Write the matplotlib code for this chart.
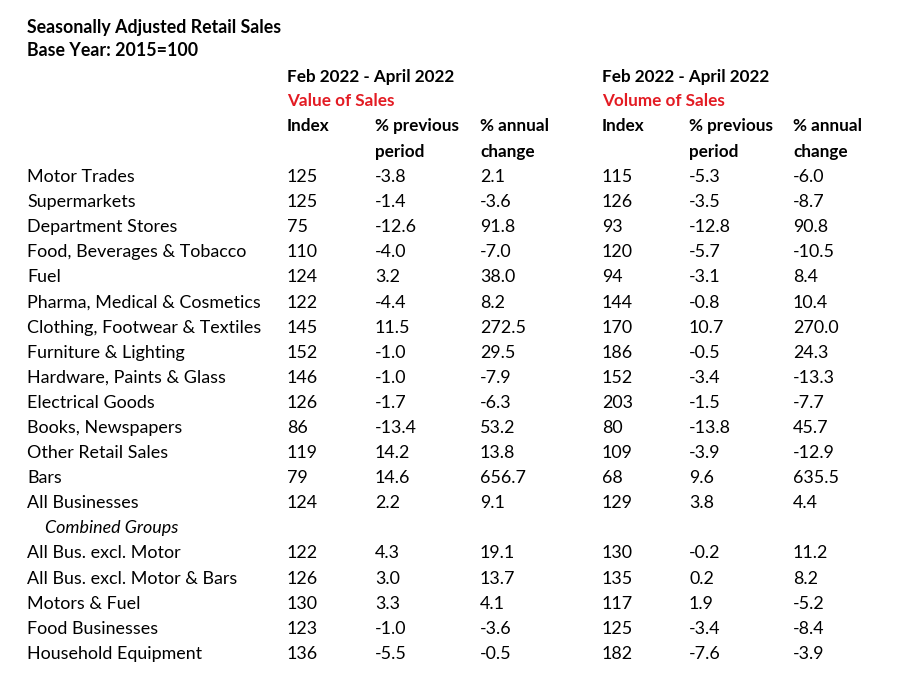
import matplotlib.pyplot as plt

# table data
categories = ["Motor Trades", "Supermarkets", "Department Stores", "Food, Beverages & Tobacco",
              "Fuel", "Pharma, Medical & Cosmetics", "Clothing, Footwear & Textiles",
              "Furniture & Lighting", "Hardware, Paints & Glass", "Electrical Goods",
              "Books, Newspapers", "Other Retail Sales", "Bars", "All Businesses"]
combined = ["All Bus. excl. Motor", "All Bus. excl. Motor & Bars", "Motors & Fuel",
            "Food Businesses", "Household Equipment"]

value_index = [125, 125, 75, 110, 124, 122, 145, 152, 146, 126, 86, 119, 79, 124,
               122, 126, 130, 123, 136]
value_prev = [-3.8, -1.4, -12.6, -4.0, 3.2, -4.4, 11.5, -1.0, -1.0, -1.7, -13.4, 14.2, 14.6, 2.2,
              4.3, 3.0, 3.3, -1.0, -5.5]
value_annual = [2.1, -3.6, 91.8, -7.0, 38.0, 8.2, 272.5, 29.5, -7.9, -6.3, 53.2, 13.8, 656.7, 9.1,
                19.1, 13.7, 4.1, -3.6, -0.5]
volume_index = [115, 126, 93, 120, 94, 144, 170, 186, 152, 203, 80, 109, 68, 129,
                130, 135, 117, 125, 182]
volume_prev = [-5.3, -3.5, -12.8, -5.7, -3.1, -0.8, 10.7, -0.5, -3.4, -1.5, -13.8, -3.9, 9.6, 3.8,
               -0.2, 0.2, 1.9, -3.4, -7.6]
volume_annual = [-6.0, -8.7, 90.8, -10.5, 8.4, 10.4, 270.0, 24.3, -13.3, -7.7, 45.7, -12.9, 635.5, 4.4,
                 11.2, 8.2, -5.2, -8.4, -3.9]

W, H = 900, 693
fig = plt.figure(figsize=(9, 6.93), dpi=100)
fig.patch.set_facecolor("white")

body = ["Lato", "DejaVu Sans"]
head = ["Lato", "DejaVu Sans"]
red = "#e31b23"
hs = 12.3  # header size


def put(x, y, s, **kw):
    # x, y in pixels from top left
    kw.setdefault("family", body)
    kw.setdefault("fontsize", 12.9)
    fig.text(x / W, 1 - y / H, s, va="center", ha="left", **kw)


put(27, 27, "Seasonally Adjusted Retail Sales", family=head, fontsize=12.8, weight="bold")
put(27, 50, "Base Year: 2015=100", family=head, fontsize=12.8, weight="bold")

col_x = [287, 375, 480, 602, 689, 793]
for gx, sub in [(287, "Value of Sales"), (602, "Volume of Sales")]:
    put(gx, 77, "Feb 2022 - April 2022", family=head, fontsize=hs, weight="bold")
    put(gx, 101, sub, family=head, fontsize=hs, weight="bold", color=red)
for k in (0, 3):
    put(col_x[k], 126, "Index", family=head, fontsize=hs, weight="bold")
    put(col_x[k + 1], 126, "% previous", family=head, fontsize=hs, weight="bold")
    put(col_x[k + 1], 152, "period", family=head, fontsize=hs, weight="bold")
    put(col_x[k + 2], 126, "% annual", family=head, fontsize=hs, weight="bold")
    put(col_x[k + 2], 152, "change", family=head, fontsize=hs, weight="bold")

labels = categories + [None] + combined
y0, dy = 177, 25.1
i = 0
for r, lab in enumerate(labels):
    y = y0 + r * dy
    if lab is None:
        put(45, y, "Combined Groups", style="italic")
        continue
    put(27, y, lab)
    cols = [value_index, value_prev, value_annual, volume_index, volume_prev, volume_annual]
    for c, vals in enumerate(cols):
        v = vals[i]
        txt = str(v) if c in (0, 3) else f"{v:.1f}"
        put(col_x[c], y, txt)
    i += 1

fig.savefig("out.png", dpi=100, facecolor="white")
